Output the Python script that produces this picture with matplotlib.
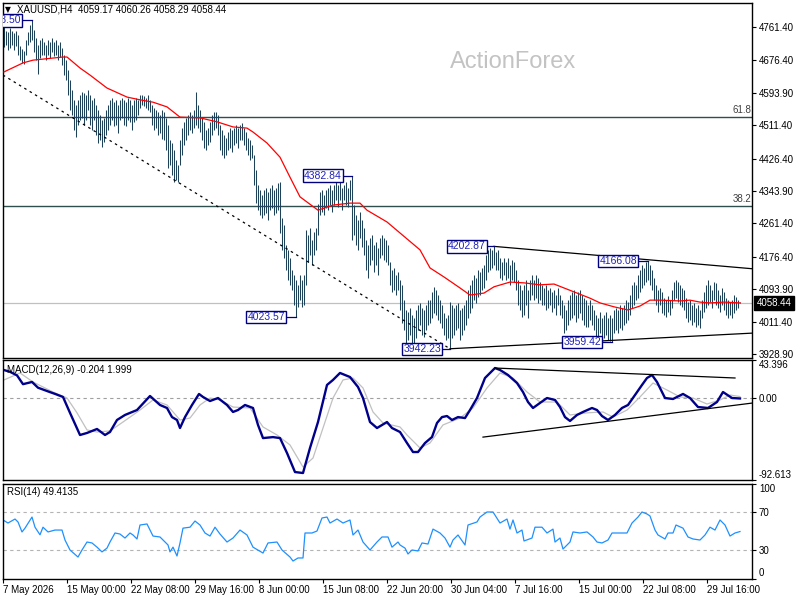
import numpy as np
import matplotlib
matplotlib.use("Agg")
import matplotlib.pyplot as plt
import matplotlib.transforms as mtransforms

plt.rcParams['font.family'] = ['Liberation Sans', 'DejaVu Sans']

# ---- XAUUSD H4 bars (high / low per bar) ----
highs = [
    4766, 4752, 4748, 4758, 4752, 4745, 4752, 4740, 4712, 4705,
    4700, 4728, 4748, 4766, 4778.50, 4754, 4733, 4715, 4728, 4733,
    4723, 4715, 4728, 4723, 4733, 4723, 4728, 4715, 4723, 4708,
    4690, 4677, 4652, 4626, 4601, 4576, 4563, 4576, 4588, 4596,
    4593, 4588, 4601, 4588, 4576, 4581, 4563, 4550, 4537, 4525,
    4530, 4550, 4563, 4576, 4581, 4571, 4576, 4563, 4576, 4581,
    4576, 4571, 4581, 4576, 4563, 4576, 4581, 4576, 4588, 4588,
    4586, 4581, 4588, 4576, 4563, 4555, 4550, 4545, 4537, 4550,
    4545, 4530, 4512, 4474, 4466, 4448, 4423, 4410, 4474, 4504,
    4519, 4530, 4537, 4545, 4537, 4550, 4596, 4563, 4550, 4530,
    4519, 4499, 4504, 4519, 4537, 4545, 4545, 4537, 4512, 4499,
    4486, 4479, 4494, 4504, 4499, 4504, 4512, 4504, 4512, 4517,
    4504, 4494, 4479, 4474, 4461, 4435, 4397, 4359, 4346, 4334,
    4346, 4351, 4341, 4351, 4359, 4346, 4351, 4364, 4366, 4275,
    4257, 4206, 4194, 4173, 4143, 4130, 4117, 4105, 4130, 4117,
    4130, 4245, 4232, 4250, 4219, 4240, 4250, 4310, 4341, 4346,
    4334, 4346, 4351, 4359, 4346, 4359, 4372, 4359, 4366, 4351,
    4359, 4366, 4351, 4372, 4382.84, 4308, 4283, 4270, 4290, 4270,
    4250, 4219, 4206, 4224, 4232, 4206, 4214, 4199, 4224, 4232,
    4224, 4219, 4206, 4163, 4143, 4148, 4130, 4138, 4117, 4105,
    4066, 4041, 4036, 4046, 4028, 4020, 4041, 4054, 4059, 4046,
    4041, 4054, 4066, 4066, 4087, 4100, 4092, 4079, 4066, 4054,
    4033, 4020, 4028, 4061, 4054, 4046, 4054, 4059, 4041, 4046,
    4054, 4066, 4092, 4105, 4117, 4130, 4122, 4143, 4138, 4148,
    4155, 4181, 4194, 4199, 4194, 4202.87, 4189, 4194, 4173, 4163,
    4173, 4163, 4173, 4155, 4168, 4163, 4143, 4117, 4105, 4092,
    4105, 4117, 4092, 4117, 4130, 4117, 4130, 4122, 4112, 4105,
    4097, 4105, 4092, 4097, 4087, 4092, 4079, 4097, 4079, 4066,
    4054, 4041, 4066, 4079, 4087, 4092, 4079, 4087, 4092, 4079,
    4071, 4066, 4054, 4066, 4054, 4041, 4028, 4020, 4036, 4020,
    4028, 4036, 4020, 4028, 4020, 4041, 4046, 4041, 4054, 4046,
    4054, 4066, 4061, 4079, 4105, 4112, 4105, 4130, 4143, 4155,
    4148, 4163, 4166.08, 4155, 4143, 4122, 4105, 4092, 4097, 4087,
    4071, 4066, 4076, 4066, 4092, 4112, 4117, 4112, 4105, 4097,
    4092, 4071, 4061, 4066, 4054, 4059, 4046, 4054, 4041, 4066,
    4087, 4105, 4117, 4105, 4092, 4112, 4110, 4092, 4079, 4097,
    4087, 4071, 4066, 4061, 4066, 4079, 4074, 4066, 4060.26,
]
lows = [
    4710, 4716, 4703, 4708, 4716, 4703, 4714, 4690, 4677, 4670,
    4668, 4690, 4716, 4722, 4728, 4698, 4677, 4641, 4682, 4690,
    4690, 4677, 4690, 4682, 4698, 4687, 4690, 4677, 4685, 4665,
    4639, 4626, 4588, 4550, 4537, 4499, 4481, 4512, 4525, 4530,
    4512, 4525, 4550, 4512, 4499, 4525, 4486, 4466, 4474, 4456,
    4469, 4486, 4499, 4512, 4525, 4509, 4512, 4492, 4525, 4530,
    4512, 4509, 4525, 4519, 4499, 4519, 4525, 4537, 4555, 4563,
    4560, 4555, 4550, 4545, 4512, 4499, 4504, 4486, 4492, 4476,
    4474, 4448, 4402, 4410, 4385, 4366, 4372, 4366, 4410, 4436,
    4461, 4474, 4486, 4499, 4492, 4504, 4512, 4504, 4494, 4474,
    4453, 4448, 4461, 4469, 4486, 4499, 4504, 4486, 4448, 4436,
    4428, 4436, 4448, 4453, 4443, 4461, 4466, 4453, 4474, 4474,
    4461, 4448, 4436, 4423, 4428, 4359, 4313, 4295, 4283, 4275,
    4283, 4288, 4270, 4295, 4300, 4283, 4288, 4295, 4237, 4194,
    4173, 4143, 4117, 4105, 4092, 4054, 4023.57, 4049, 4066, 4048,
    4054, 4105, 4163, 4181, 4156, 4181, 4194, 4232, 4283, 4290,
    4283, 4300, 4295, 4308, 4290, 4308, 4321, 4303, 4321, 4295,
    4321, 4308, 4303, 4321, 4219, 4232, 4206, 4194, 4224, 4201,
    4181, 4143, 4122, 4156, 4168, 4138, 4156, 4130, 4173, 4181,
    4168, 4163, 4156, 4105, 4087, 4092, 4079, 4092, 4041, 4008,
    3990, 3957, 3964, 3977, 3952, 3957, 3969, 3990, 4003, 3977,
    3972, 3990, 4003, 4008, 4020, 4033, 4028, 4015, 4008, 3995,
    3977, 3964, 3969, 3942.23, 3969, 3977, 3990, 3995, 3964, 3977,
    3990, 4003, 4020, 4033, 4046, 4066, 4059, 4074, 4079, 4092,
    4097, 4117, 4138, 4143, 4148, 4156, 4143, 4143, 4122, 4117,
    4130, 4117, 4122, 4105, 4117, 4112, 4092, 4054, 4041, 4023,
    4028, 4054, 4020, 4066, 4079, 4066, 4071, 4059, 4066, 4054,
    4054, 4041, 4046, 4054, 4036, 4046, 4028, 4054, 4028, 4020,
    3982, 3990, 4003, 4015, 4020, 4028, 4010, 4020, 4033, 4015,
    4003, 3997, 3997, 4015, 4003, 3990, 3969, 3964, 3982, 3962,
    3969, 3977, 3964, 3962, 3959.42, 3982, 3990, 3982, 3995, 3990,
    4003, 4008, 4015, 4028, 4046, 4054, 4066, 4071, 4087, 4097,
    4105, 4112, 4117, 4105, 4092, 4066, 4054, 4036, 4054, 4033,
    4028, 4023, 4036, 4028, 4046, 4066, 4071, 4061, 4054, 4049,
    4041, 4020, 4010, 4015, 4003, 4010, 3997, 4003, 3995, 4020,
    4036, 4046, 4054, 4061, 4046, 4066, 4054, 4046, 4036, 4054,
    4041, 4028, 4020, 4028, 4020, 4033, 4041, 4046, 4058.29,
]
last_price = 4058.44

# moving average (red), sampled at bar positions
ma_idx = [0, 9.5, 14.5, 29.5, 31.5, 38, 43, 51.5, 61.5, 68, 74.5, 81.5, 88, 98,
          106.5, 114.5, 121.5, 124.5, 131.5, 138, 143, 148, 157, 164.5, 173, 178,
          181.5, 191.5, 198, 208, 213, 220, 228, 233, 240, 245, 253, 260, 268,
          275, 280, 285, 293, 298, 305, 312, 318, 323, 328, 338, 343, 348, 353,
          360, 368]
ma_val = [4647, 4670, 4677, 4685, 4685, 4657, 4639, 4606, 4583, 4576, 4570, 4558,
          4532, 4530, 4520, 4507, 4504, 4494, 4466, 4430, 4379, 4329, 4295, 4308,
          4313, 4313, 4295, 4265, 4237, 4194, 4148, 4125, 4097, 4079, 4084, 4100,
          4112, 4110, 4105, 4107, 4097, 4087, 4071, 4059, 4049, 4041, 4051, 4066,
          4066, 4064, 4066, 4061, 4059, 4061, 4059]

# MACD(12,26,9) main line and signal
macd_idx = [0, 3, 6.5, 9.5, 14, 17, 23, 25.5, 29.5, 33, 38, 41.5, 46.5, 50.5, 53,
            56.5, 60.5, 66.5, 73, 78, 81.5, 84, 86.5, 88, 90.5, 94, 97.5, 99.5, 103,
            107, 111.5, 114.5, 117, 120.5, 124.5, 127, 129.5, 134.5, 138, 141.5,
            145.5, 149.5, 153, 157, 161.5, 164.5, 168, 173, 177, 179.5, 183, 186.5,
            191.5, 194, 198, 201.5, 204.5, 207, 210.5, 214, 216.5, 219, 221.5, 224,
            227, 230.5, 233, 236.5, 240.5, 245.5, 248, 252, 256.5, 259.5, 262,
            264.5, 268, 271.5, 275.5, 278, 280.5, 283, 286.5, 289.5, 294, 296.5,
            299, 302, 305.5, 309, 312, 315.5, 319, 321.5, 324, 326.5, 330.5,
            334.5, 339.5, 343, 347, 352, 356.5, 359.5, 364, 368]
macd_val = [32, 30, 26, 16, 18.5, 12, 7, 5, 1.5, -16.5, -41.6, -39.3, -34.8, -41.6,
            -38.2, -24.6, -18.9, -13.3, 2.6, -7.6, -11, -21.3, -24.6, -33.7, -21.3,
            -7.6, 4.9, 1.5, -3.1, 0.3, -7.6, -15.5, -13.3, -7.6, -11, -30.2, -45.1,
            -44, -45.1, -62, -83.6, -84.7, -56.3, -26.9, 15.1, 20.8, 28.7, 24.1,
            12.8, 0.3, -26.9, -33.7, -26.9, -33.7, -38.2, -50.7, -60.9, -60.9,
            -50.7, -43.9, -28, -21.3, -20.1, -24.6, -21.3, -22.4, -13.3, 0.3, 23,
            34.3, 32.1, 26.4, 17.3, 7.1, -4.2, -11, -5.3, 0.3, -1.9, -9.9, -21.3,
            -25.7, -18.9, -15.5, -11, -13.3, -20.1, -24.6, -18.9, -11, -7.6, 3.7,
            15.1, 23, 26.4, 18.5, 0.3, -0.8, 4.9, 0.3, -9.9, -11, -4.2, 7.1, 0.3,
            -0.204]
signal_idx = [0, 8, 14.5, 24.5, 31.5, 36.5, 41.5, 46.5, 53, 59.5, 68, 74.5, 81.5,
              88, 93, 98, 103, 108, 114.5, 123, 129.5, 136.5, 143, 149.5, 154.5,
              159.5, 164.5, 169.5, 174.5, 179.5, 184.5, 189.5, 198, 201.5, 208,
              213, 219.5, 228, 234.5, 241.5, 248, 254.5, 261.5, 268, 276.5, 283,
              291.5, 299.5, 304.5, 311.5, 318, 324.5, 331.5, 338, 344.5, 351.5,
              358, 363, 368]
signal_val = [20.8, 28.7, 18.5, 7.1, 0.3, -16.5, -35.9, -38.2, -37, -26.9, -13.3,
              -1.9, -7.6, -24.6, -22.4, -7.6, 0.3, -1.9, -9.9, -11, -32.5, -41.6,
              -52.9, -77.9, -67.7, -33.7, 0.3, 20.8, 23, 11.7, -15.5, -28, -32.5,
              -41.6, -56.3, -50.7, -30.2, -22.4, -11, 11.7, 28.7, 23, 7.1, -4.2,
              -4.2, -18.9, -16.5, -15.5, -21.3, -13.3, 1.5, 17.3, 9.4, 1.5, 0.3,
              -6.5, -1.9, 3.7, 1.999]
macd_max, macd_min = 43.396, -92.613

# RSI(14)
rsi_idx = [-0.5, 2, 5.5, 7, 9, 10.5, 14, 15.5, 18, 19.5, 22, 25.5, 29, 30.5, 33, 37,
           39, 41.5, 44, 46.5, 49, 51.5, 53, 55.5, 58, 60.5, 63, 64.5, 66.5, 68,
           71.5, 74.5, 78, 79.5, 82, 83, 84.5, 86.5, 88, 89.5, 93, 95.5, 98, 100.5,
           103, 105.5, 108, 111.5, 114.5, 118, 121.5, 124.5, 129.5, 132, 136.5,
           139, 143, 144.5, 147, 149.5, 150.5, 154, 156.5, 159, 161.5, 163, 166.5,
           169.5, 173, 174.5, 177, 179.5, 183, 186.5, 189, 192, 194, 197, 198,
           200.5, 202, 204, 207, 209, 212, 214.5, 218, 220.5, 223, 224.5, 227,
           230.5, 232, 236.5, 238, 241.5, 244.5, 248, 251.5, 253, 254.5, 256.5,
           259, 260, 264, 265.5, 269, 271.5, 274.5, 275.5, 278, 279.5, 283, 284.5,
           288, 291.5, 294.5, 296.5, 299, 302, 304, 307, 311.5, 314, 317, 319,
           321.5, 323, 325.5, 327, 330.5, 332, 334.5, 336, 339.5, 342, 344.5, 348,
           350.5, 353, 355.5, 358, 360.5, 363, 365.5, 368]
rsi_val = [61.6, 58.4, 62.6, 59.5, 49, 53, 64.7, 54, 46, 54, 49, 51, 51, 40.5, 30,
           22.6, 30, 38.4, 37.4, 33, 28, 32, 38.4, 47.9, 46.8, 42.6, 47.9, 45.8,
           41.6, 56.3, 57.4, 44.7, 43.7, 40.5, 35.3, 28, 33, 23.7, 37.4, 53, 54,
           60.5, 56.3, 47.9, 44.7, 54, 46.8, 38.4, 42.6, 51, 45.8, 33, 26.8, 37.4,
           38.4, 30, 22.6, 18.4, 21.6, 21.6, 47.9, 47.9, 50, 63.7, 64.7, 58.4, 62.6,
           58.4, 61.6, 45.8, 51, 38.4, 30, 38.4, 43.7, 43.7, 33, 38.4, 35.3, 32,
           25.8, 30, 29, 37.4, 36.3, 52, 47.9, 42.6, 33, 40.5, 45.8, 35.3, 56.3,
           59.5, 64.7, 70, 70, 58.4, 62.6, 52, 61.6, 47.9, 51, 39.5, 42.6, 54, 54,
           47.9, 52, 38.4, 42.6, 31, 38.4, 49, 47.9, 49, 43.7, 38.4, 37.4, 40.5,
           47.9, 47.9, 47.9, 58.4, 64.7, 70, 67.9, 65.8, 51, 45.8, 41.6, 47.9,
           47.9, 56.3, 53, 43.7, 41.6, 40.5, 45.8, 54, 51, 61.6, 56.3, 44.7, 47.9,
           49.4135]

# analyst drawings
fib_levels = [4533.5, 4306.0]
fib_names = ["61.8", "38.2"]
down_line = [(-0.5, 4639), (223, 3942.23)]
tri_upper = [(245, 4202.87), (374, 4146)]
tri_lower = [(223, 3942.23), (374, 3982)]
macd_upper = [(245.5, 34.3), (365.5, 23.0)]
macd_lower = [(239.5, -44.0), (374.5, -5.3)]

# swing labels: (bar, price, bar where the box ends)
swing_bars = [14, 174, 146, 245, 322, 223, 304]
swing_prices = [4778.50, 4382.84, 4023.57, 4202.87, 4166.08, 3942.23, 3959.42]
swing_box_end = [8.5, 169.0, 140.5, 241.0, 316.5, 218.5, 298.5]

price_ticks = [4761.40, 4676.40, 4593.90, 4511.40, 4426.40, 4343.90, 4261.40,
               4176.40, 4093.90, 4011.40, 3928.90]
time_pos = [-0.5, 31.5, 63.5, 95.5, 127.5, 159.5, 191.5, 223.5, 255.5, 287.5,
            319.5, 351.5]
time_labels = ["7 May 2026", "15 May 00:00", "22 May 08:00", "29 May 16:00",
               "8 Jun 00:00", "15 Jun 08:00", "22 Jun 20:00", "30 Jun 04:00",
               "7 Jul 16:00", "15 Jul 00:00", "22 Jul 08:00", "29 Jul 16:00"]

BAR_C = '#1f4258'
BOX_C = '#000080'
FS = 7


def rect(x0, y0, x1, y1):
    return [x0 / 800, 1 - y1 / 600, (x1 - x0) / 800, (y1 - y0) / 600]


fig = plt.figure(figsize=(8, 6), dpi=100)
ax = fig.add_axes(rect(3, 3, 752, 358))
axm = fig.add_axes(rect(3, 360, 752, 480), sharex=ax)
axr = fig.add_axes(rect(3, 483.5, 752, 578.5), sharex=ax)

# ---- price panel ----
bar_idx = np.arange(len(highs))
ax.axhline(last_price, color='#c0c0c0', lw=0.9, zorder=1)
for lvl in fib_levels:
    ax.axhline(lvl, color='#2f4f4f', lw=1.0, zorder=1)
ax.vlines(bar_idx, lows, highs, color=BAR_C, lw=0.75, zorder=2)
ax.plot(ma_idx, ma_val, color='red', lw=0.9, zorder=3)

ax.plot(*zip(*down_line), color='black', lw=0.9, ls=(0, (2, 3)), zorder=3)
ax.plot(*zip(*tri_upper), color='black', lw=0.9, zorder=3)
ax.plot(*zip(*tri_lower), color='black', lw=0.9, zorder=3)

for lvl, name in zip(fib_levels, fib_names):
    ax.text(373.5, lvl + 4, name, ha='right', va='bottom', fontsize=7,
            color='#404040')

for b, p, e in zip(swing_bars, swing_prices, swing_box_end):
    ax.plot([e + 0.8, b], [p, p], color=BOX_C, lw=0.9, zorder=4)
    ax.text(e, p, f"{p:.2f}", ha='right', va='center', fontsize=7.5,
            color='#2222b8', zorder=5, clip_on=True,
            bbox=dict(boxstyle='square,pad=0.12', fc='white', ec=BOX_C, lw=1.0))

ax.set_xlim(-0.5, 374)
ax.set_ylim(3918.7, 4822.5)
ax.yaxis.tick_right()
ax.set_yticks(price_ticks)
ax.set_yticklabels([f"{v:.2f}" for v in price_ticks])
ax.tick_params(axis='x', bottom=False, labelbottom=False)

trans = mtransforms.blended_transform_factory(ax.transAxes, ax.transData)
ax.text(1.006, last_price, f"{last_price:.2f}", transform=trans, ha='left',
        va='center', fontsize=FS, color='white', clip_on=False,
        bbox=dict(boxstyle='square,pad=0.22', fc='black', ec='black'))

# ---- MACD panel ----
axm.axhline(0, color='#a0a0a0', lw=0.8, ls=(0, (3, 3)))
axm.plot(signal_idx, signal_val, color='#c0c0c0', lw=0.9)
axm.plot(macd_idx, macd_val, color='#00008b', lw=1.7)
axm.plot(*zip(*macd_upper), color='black', lw=0.9)
axm.plot(*zip(*macd_lower), color='black', lw=0.9)
axm.set_ylim(macd_min, macd_max)
axm.yaxis.tick_right()
axm.set_yticks([macd_max, 0, macd_min])
mlabels = axm.set_yticklabels([f"{macd_max:.3f}", "0.00", f"{macd_min:.3f}"])
mlabels[0].set_va('top')
mlabels[2].set_va('bottom')
axm.tick_params(axis='x', bottom=False, labelbottom=False)

# ---- RSI panel ----
for lvl in (70, 30):
    axr.axhline(lvl, color='#b4b4b4', lw=0.8, ls=(0, (3, 3)))
axr.plot(rsi_idx, rsi_val, color='#1e90ff', lw=0.9)
axr.set_ylim(0, 100)
axr.yaxis.tick_right()
axr.set_yticks([100, 70, 30, 0])
rlabels = axr.set_yticklabels(["100", "70", "30", "0"])
rlabels[0].set_va('top')
rlabels[3].set_va('bottom')
axr.set_xticks(time_pos)
axr.set_xticklabels(time_labels, ha='left')
axr.tick_params(axis='x', length=3, width=0.8, pad=2, labelsize=FS)

for a in (ax, axm, axr):
    a.tick_params(axis='y', length=3, width=0.8, pad=2, labelsize=FS)
    for s in a.spines.values():
        s.set_color('black')
        s.set_linewidth(1.0)
    a.set_facecolor('white')

# ---- texts ----
fig.text(5 / 800, 1 - 10 / 600, '\u25bc', fontsize=5.5, va='center',
         family='DejaVu Sans')
fig.text(17 / 800, 1 - 10 / 600, 'XAUUSD,H4  4059.17 4060.26 4058.29 4058.44',
         fontsize=FS, va='center')
fig.text(450 / 800, 1 - 62 / 600, 'ActionForex', fontsize=17, color='#c3c3c3',
         va='center')
fig.text(7 / 800, 1 - 370 / 600, 'MACD(12,26,9) -0.204 1.999', fontsize=FS,
         va='center')
fig.text(7 / 800, 1 - 492 / 600, 'RSI(14) 49.4135', fontsize=FS, va='center')

fig.savefig('out.png', dpi=100)
